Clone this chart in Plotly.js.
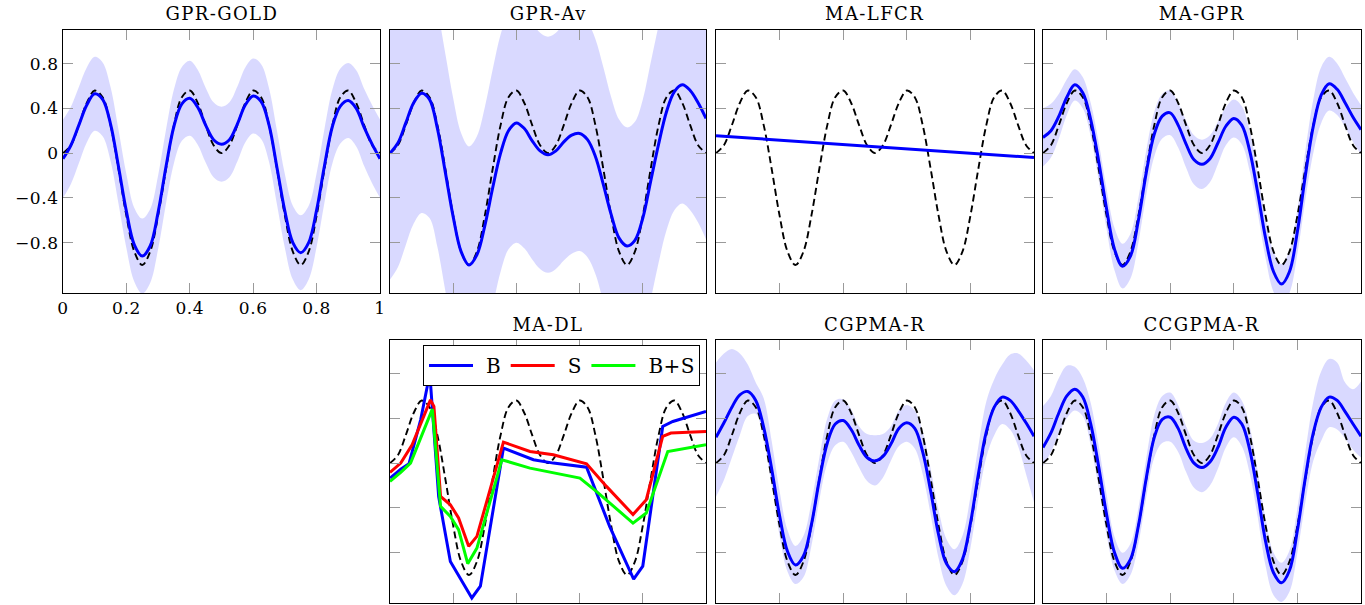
<!DOCTYPE html>
<html>
<head>
<meta charset="utf-8">
<script src="https://cdn.plot.ly/plotly-3.0.1.min.js"></script>
<style>
html,body{margin:0;padding:0;background:#fff;}
#chart{width:1365px;height:605px;}
#chart .annotation-text{letter-spacing:1.4px;}
#chart .xtick text, #chart .ytick text{letter-spacing:0.6px;}
#chart .legendtext{letter-spacing:0.5px;}
</style>
</head>
<body>
<div id="chart"></div>
<script>
// ---------------- data ----------------
const xs = [0,0.025,0.05,0.075,0.1,0.125,0.15,0.175,0.2,0.225,0.25,0.275,0.3,0.325,0.35,0.375,0.4,0.425,0.45,0.475,0.5,
            0.525,0.55,0.575,0.6,0.625,0.65,0.675,0.7,0.725,0.75,0.775,0.8,0.825,0.85,0.875,0.9,0.925,0.95,0.975,1];

const truthY = [0,0.071,0.25,0.448,0.559,0.5,0.25,-0.14,-0.559,-0.88,-1,-0.88,-0.559,-0.14,0.25,0.5,0.559,0.448,0.25,0.071,0,
                0.071,0.25,0.448,0.559,0.5,0.25,-0.14,-0.559,-0.88,-1,-0.88,-0.559,-0.14,0.25,0.5,0.559,0.448,0.25,0.071,0];

// GPR-GOLD
const goldMean = [-0.05,0.07,0.25,0.43,0.53,0.48,0.26,-0.12,-0.52,-0.82,-0.92,-0.83,-0.53,-0.12,0.24,0.44,0.49,0.41,0.25,0.12,0.08,
                  0.12,0.26,0.43,0.51,0.46,0.25,-0.13,-0.52,-0.80,-0.89,-0.80,-0.51,-0.11,0.24,0.42,0.47,0.40,0.23,0.08,-0.05];
const goldSd = [0.35,0.345,0.34,0.335,0.33,0.33,0.33,0.33,0.33,0.33,0.335,0.33,0.33,0.33,0.33,0.33,0.335,0.335,0.335,0.335,0.335,
                0.335,0.335,0.335,0.335,0.335,0.33,0.33,0.33,0.33,0.335,0.33,0.33,0.33,0.33,0.335,0.335,0.34,0.345,0.35,0.35];

// GPR-Av
const avMean = [0,0.09,0.27,0.45,0.535,0.48,0.22,-0.17,-0.57,-0.88,-1.0,-0.91,-0.65,-0.31,0,0.2,0.27,0.22,0.11,0.02,-0.015,
                0.02,0.1,0.16,0.175,0.12,-0.03,-0.28,-0.55,-0.76,-0.83,-0.78,-0.58,-0.25,0.08,0.37,0.55,0.61,0.56,0.45,0.31];
const avSd = [1.13,1.11,1.09,1.08,1.07,1.06,1.06,1.06,1.06,1.06,1.06,1.06,1.06,1.06,1.06,1.06,1.07,1.07,1.06,1.055,1.055,
              1.055,1.06,1.06,1.05,1.05,1.05,1.05,1.05,1.06,1.06,1.06,1.06,1.06,1.06,1.06,1.06,1.06,1.07,1.07,1.08];

// MA-LFCR
const lfcrX = [0,1];
const lfcrY = [0.155,-0.04];

// MA-GPR
const magprMean = [0.14,0.2,0.33,0.5,0.61,0.54,0.3,-0.07,-0.5,-0.86,-1.01,-0.92,-0.6,-0.17,0.17,0.33,0.36,0.25,0.08,-0.06,-0.1,
                   -0.05,0.09,0.24,0.31,0.25,0.02,-0.35,-0.76,-1.06,-1.17,-1.06,-0.7,-0.2,0.24,0.52,0.62,0.57,0.45,0.32,0.21];
const magprSd = [0.26,0.24,0.2,0.16,0.14,0.14,0.15,0.17,0.18,0.19,0.2,0.2,0.2,0.2,0.2,0.2,0.2,0.2,0.21,0.22,0.22,
                 0.21,0.19,0.17,0.17,0.17,0.18,0.18,0.18,0.18,0.18,0.19,0.2,0.22,0.24,0.25,0.24,0.23,0.22,0.22,0.22];

// MA-DL
const dlBx = [0,0.034,0.06,0.097,0.126,0.154,0.191,0.259,0.286,0.359,0.454,0.517,0.622,0.695,0.771,0.8,0.863,0.895,1];
const dlBy = [-0.134,-0.054,-0.006,0.387,0.8,-0.3,-0.88,-1.205,-1.1,0.134,0.03,0,-0.036,-0.565,-1.036,-0.92,0.327,0.372,0.461];
const dlSx = [0,0.034,0.07,0.102,0.128,0.139,0.16,0.191,0.217,0.249,0.275,0.359,0.443,0.517,0.622,0.685,0.769,0.811,0.863,0.889,1];
const dlSy = [-0.083,0,0.164,0.387,0.565,0.506,-0.298,-0.372,-0.49,-0.744,-0.655,0.1875,0.104,0.074,-0.006,-0.208,-0.46,-0.327,0.238,0.268,0.283];
const dlBSx = [0,0.034,0.065,0.102,0.134,0.16,0.191,0.217,0.246,0.275,0.354,0.443,0.601,0.653,0.769,0.811,0.879,1];
const dlBSy = [-0.164,-0.083,0,0.268,0.482,-0.387,-0.476,-0.595,-0.899,-0.759,0.03,-0.045,-0.134,-0.253,-0.536,-0.446,0.104,0.164];

// CGPMA-R
const cgMean = [0.23,0.36,0.5,0.61,0.64,0.56,0.32,-0.05,-0.47,-0.79,-0.91,-0.83,-0.55,-0.15,0.18,0.35,0.38,0.3,0.16,0.05,0.02,
                0.06,0.17,0.31,0.36,0.31,0.1,-0.25,-0.64,-0.9,-0.97,-0.86,-0.54,-0.1,0.28,0.5,0.59,0.56,0.47,0.36,0.24];
const cgUpper = [0.9,0.98,1.02,0.98,0.88,0.72,0.58,0.2,-0.25,-0.6,-0.74,-0.65,-0.35,0.05,0.4,0.56,0.57,0.48,0.33,0.26,0.25,
                 0.26,0.33,0.47,0.52,0.47,0.28,-0.05,-0.42,-0.68,-0.77,-0.65,-0.3,0.15,0.55,0.75,0.88,0.97,0.98,0.92,0.83];
const cgLower = [-0.3,-0.15,0.05,0.25,0.42,0.44,0.2,-0.2,-0.65,-0.97,-1.08,-1.02,-0.74,-0.33,0,0.16,0.19,0.1,-0.04,-0.16,-0.2,
                 -0.13,0.02,0.15,0.19,0.13,-0.1,-0.46,-0.85,-1.1,-1.18,-1.08,-0.76,-0.32,0.05,0.25,0.35,0.3,0.15,-0.1,-0.35];

// CCGPMA-R
const ccgMean = [0.14,0.27,0.45,0.6,0.66,0.59,0.35,-0.03,-0.46,-0.8,-0.94,-0.86,-0.56,-0.13,0.23,0.39,0.41,0.31,0.13,0,-0.04,
                 0.01,0.14,0.32,0.41,0.35,0.12,-0.27,-0.7,-0.98,-1.07,-0.96,-0.6,-0.13,0.27,0.5,0.59,0.56,0.46,0.35,0.24];
const ccgUpper = [0.51,0.6,0.76,0.87,0.86,0.76,0.54,0.16,-0.28,-0.66,-0.8,-0.72,-0.4,0.05,0.43,0.6,0.63,0.52,0.33,0.2,0.18,
                  0.22,0.35,0.54,0.63,0.56,0.33,-0.07,-0.5,-0.8,-0.89,-0.78,-0.4,0.1,0.55,0.82,0.93,0.9,0.72,0.66,0.73];
const ccgLower = [-0.03,0.1,0.26,0.4,0.47,0.42,0.16,-0.22,-0.64,-0.96,-1.08,-1.0,-0.72,-0.3,0.05,0.18,0.19,0.1,-0.08,-0.22,-0.26,
                  -0.2,-0.05,0.14,0.23,0.15,-0.09,-0.48,-0.92,-1.18,-1.24,-1.15,-0.8,-0.35,0.02,0.2,0.32,0.3,0.22,0.12,0.05];

const titles = ['GPR-GOLD','GPR-Av','MA-LFCR','MA-GPR','MA-DL','CGPMA-R','CCGPMA-R'];
const xTickVals = [0,0.2,0.4,0.6,0.8,1];
const xTickText = ['0','0.2','0.4','0.6','0.8','1'];
const yTickVals = [-0.8,-0.4,0,0.4,0.8];
const yTickText = ['\u22120.8','\u22120.4','0','0.4','0.8'];

// ---------------- styling ----------------
const FONT = 'DejaVu Serif, serif';
const BLUE = 'rgb(0,0,255)';
const BAND = 'rgba(0,0,255,0.15)';

const W = 1365, H = 605;
const cols = [[63,380],[390,706],[716,1034],[1043,1361]];
const rows = [[30,293],[340,603]];
const pos = [[0,0],[1,0],[2,0],[3,0],[1,1],[2,1],[3,1]];

const traces = [];
function ax(i){ return i===0 ? '' : String(i+1); }

function addBand(i, upper, lower){
  traces.push({x:xs, y:lower, xaxis:'x'+ax(i), yaxis:'y'+ax(i), mode:'lines', line:{width:0, shape:'spline'}, hoverinfo:'skip', showlegend:false});
  traces.push({x:xs, y:upper, xaxis:'x'+ax(i), yaxis:'y'+ax(i), mode:'lines', line:{width:0, shape:'spline'}, fill:'tonexty', fillcolor:BAND, hoverinfo:'skip', showlegend:false});
}
function addTruth(i){
  traces.push({x:xs, y:truthY, xaxis:'x'+ax(i), yaxis:'y'+ax(i), mode:'lines', line:{color:'#000', width:1.9, dash:'7px,4px', shape:'spline'}, showlegend:false});
}
function addMean(i, y, xv, shape){
  traces.push({x:xv||xs, y:y, xaxis:'x'+ax(i), yaxis:'y'+ax(i), mode:'lines', line:{color:BLUE, width:3, shape:shape||'spline'}, showlegend:false});
}
const plus = (m,s)=>m.map((v,k)=>v+s[k]);
const minus = (m,s)=>m.map((v,k)=>v-s[k]);

addBand(0, plus(goldMean,goldSd), minus(goldMean,goldSd));
addTruth(0); addMean(0, goldMean);
addBand(1, plus(avMean,avSd), minus(avMean,avSd));
addTruth(1); addMean(1, avMean);
addTruth(2); addMean(2, lfcrY, lfcrX, 'linear');
addBand(3, plus(magprMean,magprSd), minus(magprMean,magprSd));
addTruth(3); addMean(3, magprMean);
addTruth(4);
traces.push({x:dlBx, y:dlBy, xaxis:'x5', yaxis:'y5', mode:'lines', name:'B', line:{color:BLUE, width:3}, showlegend:true});
traces.push({x:dlSx, y:dlSy, xaxis:'x5', yaxis:'y5', mode:'lines', name:'S', line:{color:'rgb(255,0,0)', width:3}, showlegend:true});
traces.push({x:dlBSx, y:dlBSy, xaxis:'x5', yaxis:'y5', mode:'lines', name:'B+S', line:{color:'rgb(0,255,0)', width:3}, showlegend:true});
addBand(5, cgUpper, cgLower);
addTruth(5); addMean(5, cgMean);
addBand(6, ccgUpper, ccgLower);
addTruth(6); addMean(6, ccgMean);

const layout = {
  width:W, height:H,
  margin:{l:0,r:0,t:0,b:0},
  paper_bgcolor:'#fff', plot_bgcolor:'#fff',
  font:{family:FONT, size:17, color:'#000'},
  showlegend:true,
  legend:{x:700/W, xanchor:'right', y:1-345/H, yanchor:'top', orientation:'h', traceorder:'normal',
          bgcolor:'#fff', bordercolor:'#000', borderwidth:1, itemwidth:52,
          font:{family:FONT, size:20, color:'#000'}},
  annotations:[]
};

pos.forEach((p,i)=>{
  const c = cols[p[0]], r = rows[p[1]];
  const common = {ticks:'inside', ticklen:10, tickwidth:1, tickcolor:'#9a9a9a', showline:true, linecolor:'#000', linewidth:1,
                  mirror:'ticks', showgrid:false, zeroline:false, fixedrange:true,
                  tickfont:{family:FONT, size:17, color:'#000'}};
  layout['xaxis'+ax(i)] = Object.assign({}, common, {domain:[c[0]/W, c[1]/W], range:[0,1], tickmode:'array',
      tickvals:xTickVals, ticktext:xTickText, showticklabels:i===0, anchor:'y'+ax(i)});
  layout['yaxis'+ax(i)] = Object.assign({}, common, {domain:[1-r[1]/H, 1-r[0]/H], range:[-1.25,1.1], tickmode:'array',
      tickvals:yTickVals, ticktext:yTickText, showticklabels:i===0, anchor:'x'+ax(i)});
  layout.annotations.push({text:titles[i], xref:'paper', yref:'paper', x:(c[0]+c[1])/2/W, y:1-(r[0]-16)/H,
      xanchor:'center', yanchor:'middle', showarrow:false, font:{family:FONT, size:18, color:'#000'}});
});

function stretchLegendLines(){
  document.querySelectorAll('#chart .legendlines path').forEach(p=>{ p.setAttribute('d','M5,0h44'); });
}
Plotly.newPlot('chart', traces, layout, {displayModeBar:false, staticPlot:true}).then(stretchLegendLines);
</script>
</body>
</html>
